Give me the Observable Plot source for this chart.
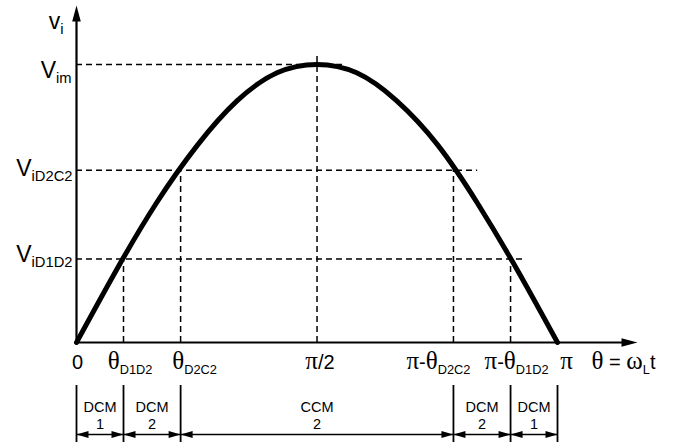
<!DOCTYPE html>
<html>
<head>
<meta charset="utf-8">
<script src="https://cdn.jsdelivr.net/npm/d3@7"></script>
<script src="https://cdn.jsdelivr.net/npm/@observablehq/plot@0.6"></script>
<style>
  html, body { margin: 0; padding: 0; background: #fff; overflow: hidden; }
  svg { display: block; }
</style>
</head>
<body>
<div id="chart"></div>
<script>
// ---- data (θ in radians, v normalised to V_im = 1) ----
const curveTheta = [0, 0.26, 0.52, 0.79, 1.05, 1.31, 1.57, 1.83, 2.09, 2.36, 2.62, 2.88, 3.1416];
const curveV     = [0, 0.26, 0.50, 0.71, 0.87, 0.97, 1.00, 0.97, 0.87, 0.71, 0.50, 0.26, 0];

const keyTheta       = [0, 0.307, 0.68, 1.571, 2.462, 2.835, 3.1416];
const keyThetaLabels = ["0", "θ_{D1D2}", "θ_{D2C2}", "π/2", "π-θ_{D2C2}", "π-θ_{D1D2}", "π"];

const levelV        = [0.30, 0.62, 1.0];
const levelLabels   = ["V_{iD1D2}", "V_{iD2C2}", "V_{im}"];
const levelDashEnd  = [2.93, 2.62, 1.76];

const vDashTheta = [0.307, 0.68, 1.571, 2.462, 2.835];
const vDashTop   = [0.30, 0.62, 1.03, 0.62, 0.30];

const modeBounds  = [0, 0.307, 0.68, 2.462, 2.835, 3.1416];
const modeNames   = ["DCM", "DCM", "CCM", "DCM", "DCM"];
const modeNumbers = ["1", "2", "2", "2", "1"];

const axisLabelY = "v_{i}";
const axisLabelX = "θ = ω_{L}t";
const axisEndTheta = 3.664;
const axisEndV = 1.212;

// ---- tables built from the arrays ----
const curve = curveTheta.map((t, i) => ({t, v: curveV[i]}));
const hDash = levelV.map((v, i) => ({v, end: levelDashEnd[i]}));
const vDash = vDashTheta.map((t, i) => ({t, top: vDashTop[i]}));
const segments = modeNames.map((n, i) => ({a: modeBounds[i], b: modeBounds[i + 1], label: n + "\n" + modeNumbers[i]}));
const heads = segments.flatMap(s => [{x: s.a, rot: -90}, {x: s.b, rot: 90}]);

// ---- styling ----
const SANS = "'Liberation Sans', Arial, Helvetica, sans-serif";
const SERIF = "'Liberation Serif', 'DejaVu Serif', 'Times New Roman', serif";
const dash = "6,4";

function arrowSymbol(len, half) {
  return {draw(ctx) { ctx.moveTo(0, 0); ctx.lineTo(-half, len); ctx.lineTo(half, len); ctx.closePath(); }};
}

const tickDx = [1, 6.5, 14, 3, -15, 6, 9];
const levelDx = [-4, -4, -5];
const levelDy = [3, 6, 13];

const marks = [
  // dashed guides
  Plot.ruleY(hDash, {y: "v", x1: () => 0, x2: "end", stroke: "black", strokeWidth: 1.5, strokeDasharray: dash}),
  Plot.ruleX(vDash, {x: "t", y1: () => 0, y2: "top", stroke: "black", strokeWidth: 1.5, strokeDasharray: dash}),
  // axes
  Plot.ruleY([0], {x1: () => 0, x2: () => axisEndTheta - 0.05, stroke: "black", strokeWidth: 2.2}),
  Plot.ruleX([0], {y1: () => 0, y2: () => axisEndV - 0.03, stroke: "black", strokeWidth: 2.2}),
  Plot.dot([{x: axisEndTheta, y: 0, rot: 90}, {x: 0, y: axisEndV, rot: 0}],
    {x: "x", y: "y", rotate: "rot", symbol: arrowSymbol(16, 4.3), r: 5, fill: "black", stroke: "none"}),
  // curve
  Plot.line(curve, {x: "t", y: "v", curve: "natural", stroke: "black", strokeWidth: 5}),
  // mode bars and arrows below the axis
  Plot.ruleX(modeBounds, {x: d => d, y1: () => 0, y2: () => 0, insetTop: 43, insetBottom: -100, stroke: "black", strokeWidth: 1.8}),
  Plot.ruleY(segments, {y: () => 0, x1: "a", x2: "b", dy: 92, stroke: "black", strokeWidth: 1.5}),
  Plot.dot(heads, {x: "x", y: () => 0, dy: 92, rotate: "rot", symbol: arrowSymbol(12, 3.6), r: 4, fill: "black", stroke: "none"}),
  Plot.text(segments, {x: d => (d.a + d.b) / 2, y: () => 0, text: "label", lineAnchor: "top", dy: 58,
    fontSize: 14.5, lineHeight: 1.15, fontFamily: SANS, fill: "black"}),
  // axis labels
  Plot.text([axisLabelY], {x: () => 0, y: () => axisEndV, text: d => d, textAnchor: "end", lineAnchor: "bottom",
    dx: -13, dy: 23, fontSize: 23, fontFamily: SANS, fill: "black"}),
  Plot.text([axisLabelX], {x: () => keyTheta[keyTheta.length - 1], y: () => 0, text: d => d, textAnchor: "middle",
    lineAnchor: "bottom", dx: 66, dy: 26, fontSize: 20, fontFamily: SANS, fill: "black"}),
  // tick labels on the θ axis
  ...keyThetaLabels.map((lab, i) => Plot.text([lab], {x: () => keyTheta[i], y: () => 0, text: d => d,
    textAnchor: "middle", lineAnchor: "bottom", dx: tickDx[i], dy: 26, fontSize: 20, fontFamily: SANS, fill: "black"})),
  // level labels on the v axis
  ...levelLabels.map((lab, i) => Plot.text([lab], {x: () => 0, y: () => levelV[i], text: d => d,
    textAnchor: "end", lineAnchor: "bottom", dx: levelDx[i], dy: levelDy[i], fontSize: 23, fontFamily: SANS, fill: "black"}))
];

const chart = Plot.plot({
  width: 673,
  height: 446,
  marginLeft: 76,
  marginRight: 116,
  marginTop: 64,
  marginBottom: 104,
  x: {domain: [0, 3.1416], axis: null},
  y: {domain: [0, 1], axis: null},
  style: {background: "white", fontFamily: SANS, color: "black", overflow: "visible"},
  marks
});

// subscripts and Greek glyphs as real SVG tspans
function richify(svg) {
  const NS = "http://www.w3.org/2000/svg";
  svg.querySelectorAll("text").forEach(el => {
    if (el.querySelector("tspan")) return;
    const s = el.textContent;
    if (!/[_θπω]/.test(s)) return;
    el.textContent = "";
    const re = /_\{([^}]*)\}|([θπω])|([^_θπω]+)/g;
    let m, shifted = 0;
    while ((m = re.exec(s))) {
      const t = document.createElementNS(NS, "tspan");
      let shift = 0;
      if (m[1] !== undefined) {
        t.textContent = m[1];
        t.setAttribute("font-size", "0.64em");
        shift = 5;
      } else if (m[2]) {
        t.textContent = m[2];
        t.setAttribute("font-family", SERIF);
        t.setAttribute("font-size", "25");
      } else {
        t.textContent = m[3];
      }
      if (shift !== shifted) { t.setAttribute("dy", shift - shifted); shifted = shift; }
      el.appendChild(t);
    }
  });
}
richify(chart);
document.getElementById("chart").appendChild(chart);
</script>
</body>
</html>
